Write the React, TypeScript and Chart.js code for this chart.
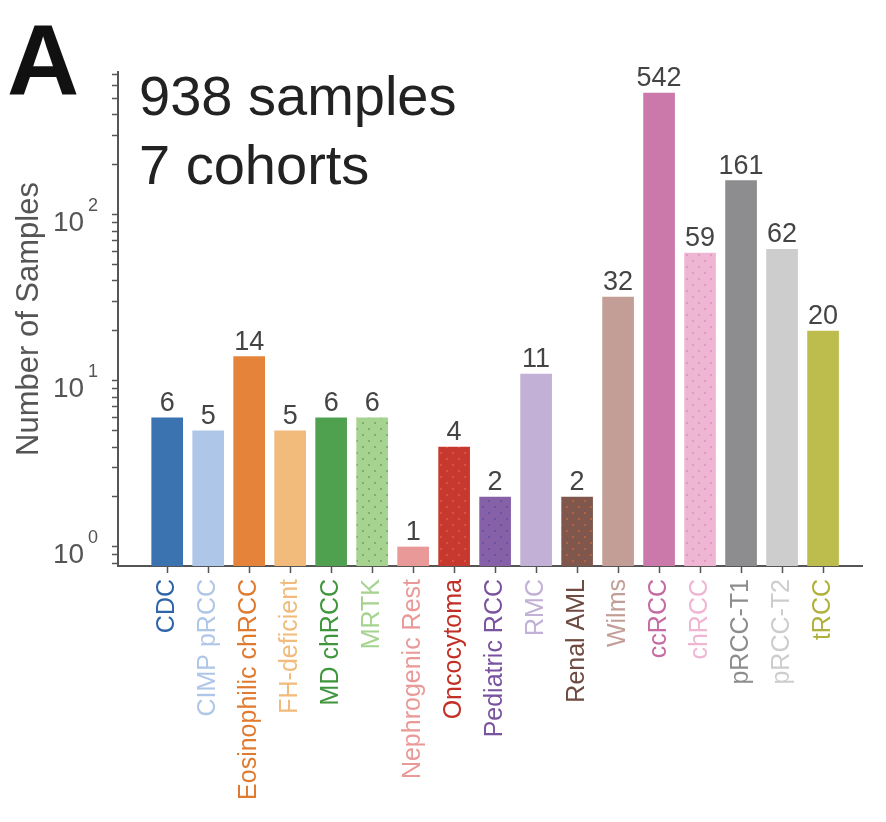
import { useEffect, useRef } from 'react'
import { Chart, registerables } from 'chart.js'

Chart.register(...registerables)

const FONT = '"Liberation Sans", Arial, Helvetica, sans-serif'

const categories = [
  'CDC', 'CIMP pRCC', 'Eosinophilic chRCC', 'FH-deficient', 'MD chRCC', 'MRTK',
  'Nephrogenic Rest', 'Oncocytoma', 'Pediatric RCC', 'RMC', 'Renal AML', 'Wilms',
  'ccRCC', 'chRCC', 'pRCC-T1', 'pRCC-T2', 'tRCC',
]
const sampleCounts = [6, 5, 14, 5, 6, 6, 1, 4, 2, 11, 2, 32, 542, 59, 161, 62, 20]
const barColors = [
  '#3b73b1', '#aec7e8', '#e5833a', '#f2bb7c', '#50a14f', '#a6d490',
  '#e99a98', '#c7392f', '#8661a8', '#c2b0d6', '#7f574d', '#c39e97',
  '#cb79ab', '#efb6d3', '#8d8d8f', '#cdcdcd', '#bdbd4e',
]
// label colours: the heavier-looking labels are a touch darker
const labelColors = [
  '#2f64a8', '#aec7e8', '#e07a2e', '#f2bb7c', '#3f963c', '#a6d490',
  '#e99a98', '#c22f25', '#7a53a0', '#c2b0d6', '#6f4a40', '#c39e97',
  '#c66aa3', '#efb6d3', '#8d8d8f', '#cdcdcd', '#b0b03c',
]
// dotted texture on some bars: [category, dot colour]
const dottedBars: [string, string][] = [
  ['MRTK', '#6a9e5e'],
  ['Pediatric RCC', '#5b4aa8'],
  ['Renal AML', '#d0683a'],
  ['chRCC', '#d98cb8'],
  ['Oncocytoma', '#e0604a'],
]
const yMajorTicks = [1, 10, 100]
const yMinorSteps = [1, 2, 3, 4, 5, 6, 7, 8, 9]
const yDecades = [0.1, 1, 10, 100]
const Y_MIN = 0.768
const Y_MAX = 726

function makeDots(bg: string, dot: string) {
  const c = document.createElement('canvas')
  c.width = 12
  c.height = 12
  const g = c.getContext('2d')!
  g.fillStyle = bg
  g.fillRect(0, 0, 12, 12)
  g.fillStyle = dot
  g.beginPath()
  g.arc(3, 3, 0.9, 0, Math.PI * 2)
  g.arc(9, 9, 0.9, 0, Math.PI * 2)
  g.fill()
  return g.createPattern(c, 'repeat')
}

const overlayPlugin = {
  id: 'overlay',
  afterDatasetsDraw(chart: any) {
    const { ctx } = chart
    const meta = chart.getDatasetMeta(0)
    ctx.save()
    ctx.fillStyle = '#444'
    ctx.font = `27px ${FONT}`
    ctx.textAlign = 'center'
    ctx.textBaseline = 'alphabetic'
    meta.data.forEach((el: any, i: number) => {
      ctx.fillText(String(sampleCounts[i]), el.x, el.y - 7)
    })
    ctx.restore()
  },
  afterDraw(chart: any) {
    const { ctx } = chart
    const y = chart.scales.y
    ctx.save()
    ctx.fillStyle = '#555'
    ctx.textAlign = 'left'
    ctx.textBaseline = 'alphabetic'
    yMajorTicks.forEach((v, i) => {
      const py = y.getPixelForValue(v)
      ctx.font = `28px ${FONT}`
      ctx.fillText('10', 53, py + 16)
      ctx.font = `18px ${FONT}`
      ctx.fillText(String(i), 88, py - 4)
    })
    // panel letter and summary
    ctx.fillStyle = '#111'
    ctx.font = `bold 100px ${FONT}`
    ctx.fillText('A', 7, 95)
    ctx.fillStyle = '#222'
    ctx.font = `56px ${FONT}`
    ctx.fillText('938 samples', 139, 115)
    ctx.fillText('7 cohorts', 139, 184)
    ctx.restore()
  },
}

export default function App() {
  const canvasRef = useRef<HTMLCanvasElement>(null)
  const chartRef = useRef<Chart | null>(null)

  useEffect(() => {
    document.body.style.margin = '0'
    if (!canvasRef.current) return
    if (chartRef.current) chartRef.current.destroy()
    const ctx = canvasRef.current.getContext('2d')
    if (!ctx) return

    const backgrounds = categories.map((c, i) => {
      const d = dottedBars.find((b) => b[0] === c)
      return d ? makeDots(barColors[i], d[1]) : barColors[i]
    })

    chartRef.current = new Chart(ctx, {
      type: 'bar',
      data: {
        datasets: [
          {
            label: 'Number of Samples',
            data: sampleCounts.map((v, i) => ({ x: i, y: v })),
            backgroundColor: backgrounds as any,
            borderWidth: 0,
            barThickness: 31,
          },
        ],
      },
      options: {
        responsive: true,
        maintainAspectRatio: false,
        animation: false,
        layout: { padding: { left: 0, top: 72, right: 24, bottom: 0 } },
        plugins: {
          legend: { display: false },
          tooltip: { enabled: false },
        },
        scales: {
          x: {
            type: 'linear',
            min: -1.2,
            max: 16.95,
            offset: false,
            afterBuildTicks: (scale: any) => {
              scale.ticks = categories.map((_, i) => ({ value: i }))
            },
            afterFit: (scale: any) => {
              scale.height = 256
            },
            grid: {
              display: true,
              drawOnChartArea: false,
              drawTicks: true,
              tickLength: 7,
              tickWidth: 1.5,
              color: '#555',
              offset: false,
            },
            border: { display: true, color: '#555', width: 2 },
            ticks: {
              autoSkip: false,
              minRotation: 90,
              maxRotation: 90,
              padding: 6,
              callback: (_v: any, i: number) => categories[i],
              color: (c: any) => labelColors[c.index],
              font: { family: FONT, size: 25 },
            },
          },
          y: {
            type: 'logarithmic',
            min: Y_MIN,
            max: Y_MAX,
            afterBuildTicks: (scale: any) => {
              const vals: number[] = []
              yDecades.forEach((d) => yMinorSteps.forEach((s) => vals.push(+(d * s).toPrecision(3))))
              scale.ticks = vals.filter((v) => v >= Y_MIN && v <= Y_MAX).map((v) => ({ value: v }))
            },
            afterFit: (scale: any) => {
              scale.width = 118
            },
            grid: {
              display: true,
              drawOnChartArea: false,
              drawTicks: true,
              tickLength: 6,
              tickWidth: 1.5,
              color: '#555',
            },
            border: { display: true, color: '#555', width: 2 },
            ticks: {
              autoSkip: false,
              callback: () => '',
            },
            title: {
              display: true,
              text: 'Number of Samples',
              color: '#555',
              font: { family: FONT, size: 31 },
              padding: { top: 11, bottom: 0 },
            },
          },
        },
      },
      plugins: [overlayPlugin],
    })

    return () => {
      if (chartRef.current) {
        chartRef.current.destroy()
        chartRef.current = null
      }
    }
  }, [])

  return (
    <div style={{ width: '886px', height: '822px', position: 'relative', background: '#fff' }}>
      <canvas ref={canvasRef}></canvas>
    </div>
  )
}
